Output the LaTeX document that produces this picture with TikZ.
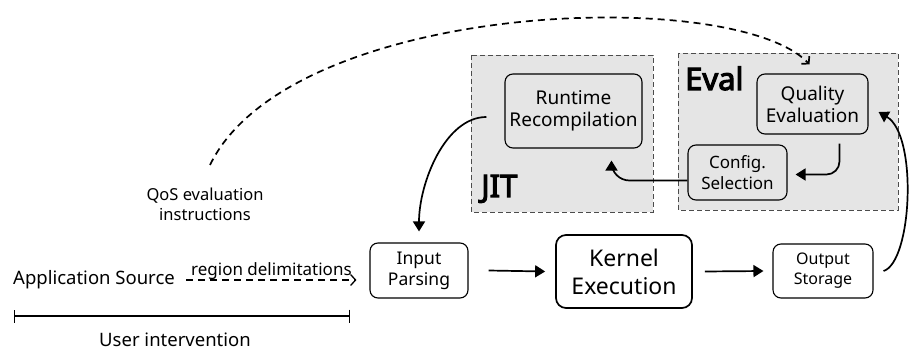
\documentclass[tikz,border=0pt]{standalone}
\usepackage{fontspec}
\setmainfont{Noto Sans}
\newfontfamily\tagfont{Noto Sans}[FakeBold=3.5]
\usetikzlibrary{arrows.meta}

\tikzset{
  stage/.style={draw, rounded corners=8pt, line width=1.1pt, align=center, inner sep=0pt, font=\fontsize{19}{22}\selectfont},
  region/.style={draw=black!70, fill=black!10, line width=0.7pt, dash pattern=on 5pt off 3pt},
  flow/.style={line width=1.7pt, -{Triangle[length=10pt,width=12pt]}},
  hint/.style={line width=1.7pt, dash pattern=on 7pt off 5pt, -{Straight Barb[length=5pt,width=11pt]}},
  tag/.style={anchor=base west, inner sep=0pt, font=\fontsize{31}{33}\tagfont},
  plain/.style={align=center, font=\fontsize{18.5}{22}\selectfont}
}

\begin{document}
\begin{tikzpicture}[x=1pt,y=-1pt]
\useasboundingbox (0,0) rectangle (909,352);

% Regions
\draw [region] (471,55) rectangle (653,212);
\draw [region] (678,53) rectangle (898,210);
\node [tag] (jit) at (481,197) {JIT};
\node [tag] (eval) at (685,90) {Eval};

% Stages
\node [stage, minimum width=137pt, minimum height=74pt] (rt) at (573.5,111) {Runtime\\Recompilation};
\node [stage, minimum width=111pt, minimum height=60pt] (qe) at (812.5,104) {Quality\\Evaluation};
\node [stage, minimum width=99pt, minimum height=55pt, font=\fontsize{17}{21}\selectfont] (cs) at (737.5,172.5) {Config.\\Selection};
\node [stage, minimum width=98pt, minimum height=55pt, font=\fontsize{17.5}{21}\selectfont] (ip) at (419,270.5) {Input\\Parsing};
\node [stage, minimum width=136pt, minimum height=73pt, line width=1.7pt, rounded corners=10pt, font=\fontsize{23}{28}\selectfont] (ke) at (624,271.5) {Kernel\\Execution};
\node [stage, minimum width=100pt, minimum height=54pt, font=\fontsize{16}{20}\selectfont] (os) at (823,271) {Output\\Storage};

% Text
\node [plain] (app) at (94,280) {Application Source};
\node [plain, font=\fontsize{16.5}{20}\selectfont] (qos) at (205,204) {QoS evaluation\\instructions};
\node [plain] (ui) at (175,340) {User intervention};
\coordinate (uil) at (14,316);
\coordinate (uir) at (350,316);
\coordinate (qosend) at (210,165);

% Flow
\draw [flow] ([xshift=20pt]ip.east) -- ([xshift=-10pt]ke.west);
\draw [flow] ([xshift=12pt]ke.east) -- ([xshift=-9pt]os.west);
\draw [flow] ([xshift=10pt]os.east) .. controls (912,262) and (918,135) .. ([xshift=10pt,yshift=-8pt]qe.east);
\draw [flow, rounded corners=13pt, shorten >=8pt] ([xshift=27pt,yshift=-9pt]qe.south) |- ([yshift=-2pt]cs.east);
\draw [flow, rounded corners=18pt, shorten >=12pt] ([yshift=-8pt]cs.west) -| ([xshift=38pt]rt.south);
\draw [flow, shorten <=18pt, shorten >=11pt] ([yshift=-6pt]rt.west) to [out=180,in=90] (ip.north);

% Hints
\draw [hint] (qosend) .. controls (290,0) and (735,-15) .. ([xshift=-3pt,yshift=9pt]qe.north);
\draw [hint, line width=1.3pt] ([xshift=8pt]app.east) -- node [above, font=\fontsize{17}{20}\selectfont, yshift=-4pt] (rd) {region delimitations} ([xshift=-13pt]app.east -| ip.west);
\draw [line width=1.4pt, {Bar[width=13pt]}-{Bar[width=13pt]}] (uil) -- (uir);
\end{tikzpicture}
\end{document}
